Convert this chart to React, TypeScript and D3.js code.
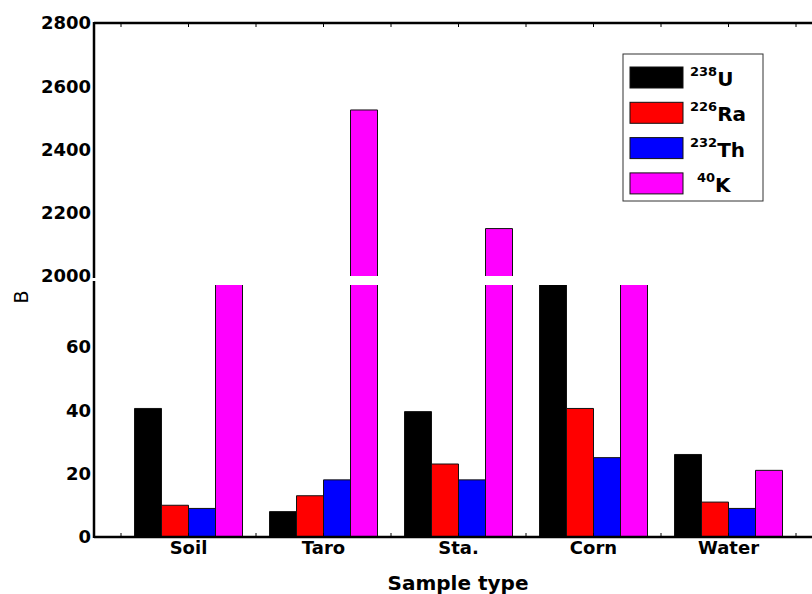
import React from 'react'
import * as d3 from 'd3'

// sample groups and isotope series
const samples = ['Soil', 'Taro', 'Sta.', 'Corn', 'Water']
const isotopes = ['238U', '226Ra', '232Th', '40K']
const massNums = ['238', '226', '232', '40']
const elements = ['U', 'Ra', 'Th', 'K']
const colors = ['#000000', '#ff0000', '#0000ff', '#ff00ff']

// values per isotope, in sample order
const u238 = [40.5, 8, 39.5, 1500, 26]
const ra226 = [10, 13, 23, 40.5, 11]
const th232 = [9, 18, 18, 25, 9]
const k40 = [1700, 2525, 2150, 1650, 21]
const seriesValues = [u238, ra226, th232, k40]

const lowTicks = [0, 20, 40, 60]
const highTicks = [2000, 2200, 2400, 2600, 2800]

const W = 812
const H = 594
const axisX = 94
const plotRight = 812
const topY = 23
const baseY = 537

const font = '"DejaVu Sans", Verdana, sans-serif'

// outline of a bar, leaving the cut side open where the axis is broken
function outline(x0: number, y0: number, w: number, y1: number, openTop: boolean, openBottom: boolean) {
  const p = d3.path()
  if (openBottom) {
    p.moveTo(x0, y1)
  } else {
    p.moveTo(x0 + w, y1)
    p.lineTo(x0, y1)
  }
  p.lineTo(x0, y0)
  if (openTop) {
    p.moveTo(x0 + w, y0)
  } else {
    p.lineTo(x0 + w, y0)
  }
  p.lineTo(x0 + w, y1)
  return p.toString()
}

export default function App() {
  const x = d3.scaleBand<string>().domain(samples).range([121, 796]).padding(0)
  const xi = d3.scaleBand<string>().domain(isotopes).range([13.5, 121.5]).padding(0)

  const lowMax = 79.4
  const yLow = d3.scaleLinear().domain([0, lowMax]).range([baseY, 285])
  const yHigh = d3.scaleLinear().domain([2000, 2800]).range([276, topY])

  const bars: any[] = []
  isotopes.forEach((iso, s) => {
    seriesValues[s].forEach((v, i) => {
      const bx = (x(samples[i]) ?? 0) + (xi(iso) ?? 0)
      const bw = xi.bandwidth()
      const cut = v > lowMax
      const lowTop = yLow(Math.min(v, lowMax))
      bars.push(
        <g key={`l-${s}-${i}`}>
          <rect x={bx} y={lowTop} width={bw} height={baseY - lowTop} fill={colors[s]} />
          <path d={outline(bx, lowTop, bw, baseY, cut, false)} fill="none" stroke="#111" strokeWidth={1} />
        </g>
      )
      if (v > 2000) {
        const hTop = yHigh(v)
        const hBot = yHigh(2000)
        bars.push(
          <g key={`h-${s}-${i}`}>
            <rect x={bx} y={hTop} width={bw} height={hBot - hTop} fill={colors[s]} />
            <path d={outline(bx, hTop, bw, hBot, false, true)} fill="none" stroke="#111" strokeWidth={1} />
          </g>
        )
      }
    })
  })

  // small inward ticks at band edges and centers
  const xTicks: number[] = []
  samples.forEach((c) => {
    const b = x(c) ?? 0
    xTicks.push(b, b + x.bandwidth() / 2)
  })
  xTicks.push(x.range()[1])

  return (
    <svg width={W} height={H} style={{ position: 'absolute', left: 0, top: 0, background: '#fff' }}>
      {bars}

      {/* frame */}
      <line x1={axisX} x2={plotRight} y1={topY} y2={topY} stroke="#000" strokeWidth={2.5} />
      <line x1={axisX} x2={plotRight} y1={baseY} y2={baseY} stroke="#000" strokeWidth={2.5} />
      <line x1={axisX} x2={axisX} y1={topY - 1} y2={baseY + 1} stroke="#000" strokeWidth={2.5} />
      <rect x={axisX - 2} y={278} width={4} height={3} fill="#fff" />

      {xTicks.map((t, i) => (
        <g key={`xt-${i}`}>
          <line x1={t} x2={t} y1={baseY} y2={baseY - 4} stroke="#000" strokeWidth={1} />
          <line x1={t} x2={t} y1={topY} y2={topY + 4} stroke="#000" strokeWidth={1} />
        </g>
      ))}

      {/* y tick labels */}
      {lowTicks.map((t) => (
        <text key={`lt-${t}`} x={axisX - 3} y={yLow(t)} dy="0.36em" textAnchor="end"
          fontFamily={font} fontWeight="bold" fontSize={18}>{t}</text>
      ))}
      {highTicks.map((t) => (
        <text key={`ht-${t}`} x={axisX - 3} y={yHigh(t)} dy="0.36em" textAnchor="end"
          fontFamily={font} fontWeight="bold" fontSize={18}>{t}</text>
      ))}

      {/* category labels */}
      {samples.map((c) => (
        <text key={`c-${c}`} x={(x(c) ?? 0) + x.bandwidth() / 2} y={548} dy="0.36em" textAnchor="middle"
          fontFamily={font} fontWeight="bold" fontSize={18}>{c}</text>
      ))}

      <text x={458} y={590} textAnchor="middle" fontFamily={font} fontWeight="bold" fontSize={20}>Sample type</text>
      <text transform="translate(28,297) rotate(-90)" textAnchor="middle" fontFamily={font} fontSize={19}>B</text>

      {/* legend */}
      <rect x={623} y={54} width={140} height={147} fill="#fff" stroke="#333" strokeWidth={1} />
      {isotopes.map((iso, s) => {
        const ry = 67 + s * 35.3
        const tx = s === 3 ? 697 : 690
        return (
          <g key={`lg-${iso}`}>
            <rect x={630} y={ry} width={53} height={21} fill={colors[s]} stroke="#111" strokeWidth={1} />
            <text x={tx} y={ry + 9} fontFamily={font} fontWeight="bold" fontSize={13}>
              {massNums[s]}
              <tspan fontSize={20} dy={10}>{elements[s]}</tspan>
            </text>
          </g>
        )
      })}
    </svg>
  )
}
